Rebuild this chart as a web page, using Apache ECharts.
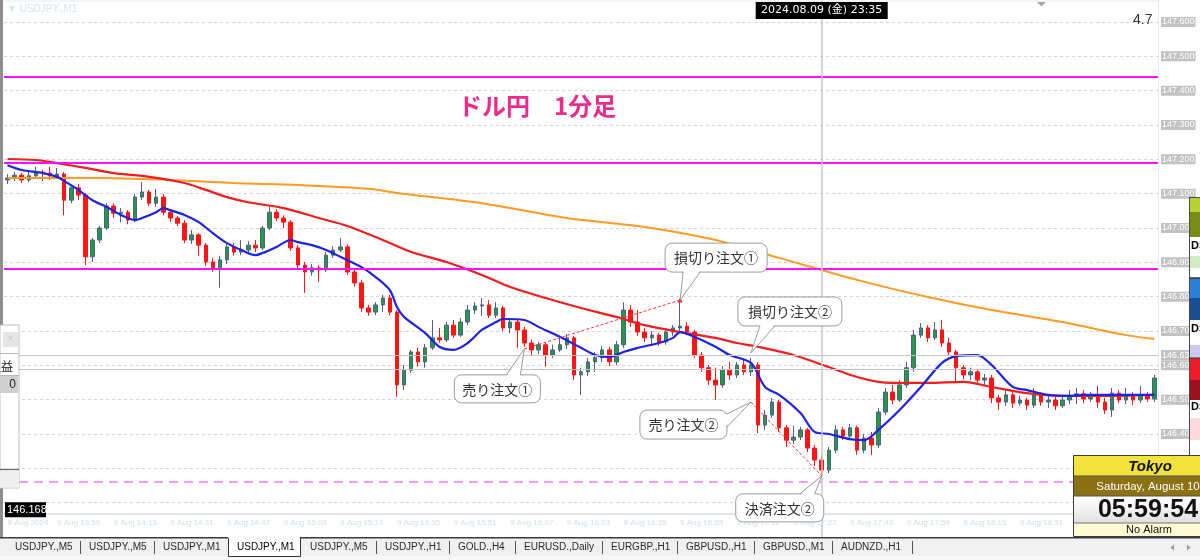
<!DOCTYPE html>
<html>
<head>
<meta charset="utf-8">
<script src="https://cdn.jsdelivr.net/npm/echarts@6/dist/echarts.min.js"></script>
<style>
html,body{margin:0;padding:0;background:#ffffff;overflow:hidden;width:1200px;height:560px;position:relative;}
#chart{position:absolute;left:0;top:-40px;width:1200px;height:600px;}
</style>
</head>
<body>
<div id="chart"></div>
<script>
// ================= DATA =================
const chartTitle = 'ドル円\u30001分足';
const symbolLabel = '\u25BC USDJPY.,M1';
const dateLabelPrefix = '9 Aug ';
const firstDateLabel = '9 Aug 2024';
const startTime = '13:45';
const barMinutes = 2;

// [open, close, low, high]
const candles = [
[147.140,147.146,147.128,147.157],[147.146,147.154,147.137,147.163],[147.154,147.140,147.131,147.160],[147.140,147.152,147.134,147.163],
[147.152,147.163,147.146,147.178],[147.163,147.160,147.137,147.169],[147.160,147.152,147.140,147.178],[147.152,147.157,147.146,147.175],
[147.157,147.081,147.037,147.163],[147.081,147.117,147.072,147.125],[147.117,147.096,147.081,147.128],[147.096,146.916,146.892,147.102],
[146.916,146.965,146.901,146.971],[146.965,147.000,146.956,147.006],[147.000,147.064,146.994,147.072],[147.064,147.043,147.029,147.072],
[147.043,147.046,147.017,147.058],[147.046,147.023,147.011,147.052],[147.023,147.090,147.017,147.099],[147.090,147.105,147.081,147.134],
[147.105,147.072,147.064,147.111],[147.072,147.090,147.061,147.114],[147.090,147.046,147.037,147.099],[147.046,147.029,147.017,147.055],
[147.029,147.014,147.006,147.035],[147.014,146.965,146.956,147.023],[146.965,146.980,146.953,146.994],[146.980,146.950,146.919,146.985],
[146.950,146.901,146.889,146.956],[146.901,146.884,146.872,146.913],[146.884,146.907,146.826,146.919],[146.907,146.945,146.895,146.953],
[146.945,146.930,146.919,146.956],[146.930,146.936,146.921,146.965],[146.936,146.950,146.924,146.962],[146.950,146.942,146.930,146.965],
[146.942,147.000,146.936,147.006],[147.000,147.046,146.994,147.061],[147.046,147.029,147.020,147.055],[147.029,147.017,147.000,147.037],
[147.017,146.942,146.933,147.023],[146.942,146.892,146.878,146.950],[146.892,146.872,146.811,146.901],[146.872,146.884,146.861,146.895],
[146.884,146.878,146.843,146.892],[146.878,146.921,146.872,146.930],[146.921,146.936,146.913,146.947],[146.936,146.945,146.930,146.971],
[146.945,146.872,146.863,146.953],[146.872,146.840,146.829,146.881],[146.840,146.767,146.755,146.849],[146.767,146.755,146.744,146.776],
[146.755,146.776,146.746,146.784],[146.776,146.796,146.755,146.805],[146.796,146.755,146.746,146.805],[146.755,146.543,146.508,146.761],
[146.543,146.586,146.528,146.601],[146.586,146.639,146.578,146.645],[146.639,146.610,146.596,146.651],[146.610,146.651,146.593,146.662],
[146.651,146.680,146.645,146.732],[146.680,146.674,146.665,146.709],[146.674,146.717,146.668,146.726],[146.717,146.688,146.680,146.732],
[146.688,146.726,146.683,146.738],[146.726,146.761,146.717,146.776],[146.761,146.773,146.749,146.784],[146.773,146.776,146.744,146.796],
[146.776,146.746,146.738,146.790],[146.746,146.767,146.738,146.784],[146.767,146.709,146.700,146.773],[146.709,146.726,146.694,146.738],
[146.726,146.703,146.651,146.732],[146.703,146.665,146.654,146.712],[146.665,146.645,146.630,146.674],[146.645,146.660,146.633,146.668],
[146.660,146.630,146.596,146.665],[146.630,146.645,146.622,146.660],[146.645,146.660,146.639,146.686],[146.660,146.680,146.648,146.691],
[146.680,146.572,146.557,146.686],[146.572,146.581,146.514,146.593],[146.581,146.610,146.569,146.622],[146.610,146.622,146.581,146.639],
[146.622,146.645,146.610,146.657],[146.645,146.610,146.598,146.654],[146.610,146.660,146.601,146.671],[146.660,146.761,146.651,146.784],
[146.761,146.726,146.712,146.776],[146.726,146.697,146.686,146.761],[146.697,146.680,146.668,146.709],[146.680,146.688,146.662,146.700],
[146.688,146.668,146.657,146.694],[146.668,146.697,146.660,146.703],[146.697,146.709,146.686,146.717],[146.709,146.714,146.700,146.790],
[146.714,146.697,146.688,146.726],[146.697,146.630,146.622,146.703],[146.630,146.593,146.581,146.639],[146.593,146.557,146.543,146.601],
[146.557,146.543,146.499,146.593],[146.543,146.586,146.534,146.598],[146.586,146.572,146.557,146.610],[146.572,146.601,146.563,146.610],
[146.601,146.581,146.572,146.616],[146.581,146.601,146.569,146.622],[146.601,146.426,146.403,146.610],[146.426,146.455,146.412,146.470],
[146.455,146.493,146.447,146.505],[146.493,146.418,146.406,146.499],[146.418,146.382,146.362,146.426],[146.382,146.391,146.371,146.424],
[146.391,146.412,146.382,146.421],[146.412,146.359,146.347,146.418],[146.359,146.324,146.307,146.368],[146.324,146.295,146.275,146.339],
[146.295,146.353,146.286,146.362],[146.353,146.412,146.344,146.426],[146.412,146.394,146.382,146.421],[146.394,146.418,146.382,146.429],
[146.418,146.353,146.339,146.424],[146.353,146.388,146.344,146.400],[146.388,146.368,146.339,146.406],[146.368,146.464,146.359,146.476],
[146.464,146.522,146.455,146.534],[146.522,146.499,146.487,146.543],[146.499,146.543,146.493,146.557],[146.543,146.593,146.534,146.610],
[146.593,146.688,146.581,146.703],[146.688,146.709,146.680,146.723],[146.709,146.680,146.668,146.717],[146.680,146.703,146.674,146.726],
[146.703,146.665,146.654,146.732],[146.665,146.639,146.627,146.680],[146.639,146.593,146.552,146.645],[146.593,146.572,146.560,146.601],
[146.572,146.581,146.557,146.593],[146.581,146.557,146.546,146.586],[146.557,146.563,146.540,146.575],[146.563,146.505,146.490,146.572],
[146.505,146.493,146.470,146.514],[146.493,146.514,146.482,146.528],[146.514,146.490,146.476,146.522],[146.490,146.499,146.482,146.511],
[146.499,146.484,146.470,146.505],[146.484,146.514,146.476,146.534],[146.514,146.493,146.482,146.522],[146.493,146.499,146.476,146.514],
[146.499,146.482,146.470,146.508],[146.482,146.499,146.476,146.511],[146.499,146.511,146.487,146.528],[146.511,146.517,146.487,146.534],
[146.517,146.502,146.490,146.528],[146.502,146.514,146.493,146.522],[146.514,146.493,146.476,146.540],[146.493,146.470,146.458,146.505],
[146.470,146.519,146.450,146.534],[146.519,146.499,146.490,146.528],[146.499,146.511,146.487,146.534],[146.511,146.499,146.484,146.522],
[146.499,146.514,146.490,146.540],[146.514,146.502,146.493,146.522],[146.502,146.563,146.493,146.572]
];

// moving averages: [barIndex, price]
const maFast = [[0,147.183],[2,147.169],[5,147.160],[7,147.149],[8,147.137],[10,147.111],[12,147.081],[14,147.061],[16,147.038],[18,147.023],[19,147.029],[21,147.046],[22,147.058],[23,147.052],[25,147.038],[27,147.017],[29,146.985],[31,146.956],[33,146.936],[35,146.921],[36,146.927],[38,146.945],[40,146.965],[41,146.959],[43,146.950],[45,146.936],[47,146.916],[50,146.886],[52,146.857],[54,146.819],[55,146.770],[56,146.741],[59,146.694],[61,146.654],[63,146.645],[65,146.665],[67,146.703],[69,146.726],[70,146.735],[73,146.732],[75,146.712],[78,146.683],[81,146.651],[83,146.630],[85,146.624],[87,146.639],[89,146.651],[92,146.665],[94,146.680],[95,146.697],[97,146.683],[100,146.654],[102,146.630],[105,146.607],[107,146.537],[109,146.514],[112,146.461],[114,146.406],[116,146.400],[119,146.385],[121,146.382],[123,146.412],[126,146.470],[129,146.537],[132,146.607],[134,146.627],[137,146.630],[139,146.601],[142,146.537],[144,146.528],[147,146.514],[150,146.511],[152,146.514],[156,146.514],[162,146.514]];
const maMid = [[0,147.201],[4,147.198],[7,147.189],[11,147.175],[15,147.160],[20,147.149],[25,147.131],[28,147.111],[31,147.090],[34,147.075],[39,147.058],[44,147.029],[48,147.006],[53,146.965],[57,146.930],[62,146.901],[67,146.863],[71,146.828],[76,146.796],[81,146.767],[86,146.741],[90,146.717],[95,146.697],[100,146.680],[103,146.665],[106,146.654],[111,146.630],[116,146.595],[120,146.566],[123,146.552],[125,146.549],[130,146.549],[135,146.552],[139,146.537],[144,146.519],[149,146.511],[153,146.511],[162,146.514]];
const maSlow = [[0,147.146],[7,147.146],[13,147.146],[23,147.140],[32,147.131],[41,147.125],[51,147.114],[55,147.102],[67,147.072],[79,147.029],[90,147.003],[100,146.965],[109,146.913],[120,146.849],[130,146.799],[139,146.761],[149,146.726],[158,146.688],[162,146.677]];

const levelLines = [147.435, 147.195, 146.875];
const targetLines = [146.257];
const priceLines = [146.630, 146.585];
const leftPriceTag = 146.168;
const crosshairBar = 115;
const crosshairLabel = '2024.08.09 (金) 23:35';
const cornerValue = '4.7';

const tradePaths = [
  [[73,146.648],[95,146.790]],
  [[105,146.493],[115,146.278]]
];
const callouts = [
  {text:'損切り注文①', bar:95,  price:146.790},
  {text:'損切り注文②', bar:105, price:146.636},
  {text:'売り注文①',   bar:73,  price:146.648},
  {text:'売り注文②',   bar:105, price:146.493},
  {text:'決済注文②',   bar:115, price:146.278}
];
const tabLabels = ['USDJPY.,M5','USDJPY.,M5','USDJPY.,M1','USDJPY.,M1','USDJPY.,M5','USDJPY.,H1','GOLD.,H4','EURUSD.,Daily','EURGBP.,H1','GBPUSD.,H1','GBPUSD.,M1','AUDNZD.,H1'];
const activeTab = 3;
const clockTexts = ['Tokyo','Saturday, August 10','05:59:54','No Alarm'];
const sidePanelTexts = ['DS','DS','DS'];
const leftPanelTexts = ['損益','0'];

// ================= LAYOUT (positions / styles) =================
const OFF = 40; // chart canvas is shifted up by this many pixels
const calloutLayout = [
  {dx:-15, dy:-57, w:102, h:29, edge:'bottom', a:18, b:35},
  {dx:-13, dy:-56, w:104, h:29, edge:'bottom', a:22, b:37},
  {dx:-70, dy:26,  w:86,  h:28, edge:'top',    a:52, b:66},
  {dx:-111,dy:8,   w:87,  h:29, edge:'right',  a:4,  b:17},
  {dx:-86, dy:18,  w:88,  h:28, edge:'top',    a:64, b:79}
];
const tabX = [15,89,163,237,310,385,458,524,611,686,763,841];
const LATIN = '"Liberation Sans", Arial, sans-serif';
const CJK = '"Noto Sans CJK JP", sans-serif';

// ================= BUILD =================
const categories = [];
(function(){
  const p = startTime.split(':').map(Number);
  for (let k = 0; k < candles.length; k++) {
    const t = p[0]*60 + p[1] + k*barMinutes;
    categories.push(String(Math.floor(t/60)).padStart(2,'0') + ':' + String(t%60).padStart(2,'0'));
  }
})();

const chart = echarts.init(document.getElementById('chart'), null, {renderer:'canvas', width:1200, height:600});

const markData = [];
levelLines.forEach(v => markData.push({yAxis:v, lineStyle:{color:'#ff10ff', width:2, type:'solid'}}));
targetLines.forEach(v => markData.push({yAxis:v, lineStyle:{color:'#f47cf4', width:1.6, type:[9,6]}}));
priceLines.forEach((v,k) => markData.push({yAxis:v, lineStyle:{color:'#c6c6c6', width:1, type:'solid'},
  label: k === 0 ? {show:true, position:'end', distance:3, formatter: v.toFixed(3), color:'#fff', backgroundColor:'#c2c2c2', fontSize:9, fontFamily:LATIN, padding:[1,1,0,1]} : {show:false}}));
markData.push({xAxis: categories[crosshairBar], lineStyle:{color:'#c8c8c8', width:1.5, type:'solid'}});

const option = {
  animation:false,
  backgroundColor:'#ffffff',
  title:{text:chartTitle, left:458, top:94 + OFF, padding:0,
    textStyle:{color:'#ee2a8a', fontSize:24, fontWeight:'bold', fontFamily:CJK}},
  grid:{left:4, right:42, top:OFF - 12.33, bottom:23},
  xAxis:{type:'category', data:categories, boundaryGap:true,
    axisLine:{show:false}, axisTick:{show:false}, splitLine:{show:false},
    axisLabel:{color:'#cfe0f0', fontSize:8, fontFamily:LATIN, margin:-18, align:'left',
      interval:(i) => i === 0 || (i >= 7 && (i-7) % 8 === 0),
      formatter:(v, i) => i === 0 ? firstDateLabel : dateLabelPrefix + v}},
  yAxis:{type:'value', position:'right', min:146.1, max:147.7, interval:0.1, scale:true,
    axisLine:{show:false}, axisTick:{show:false},
    splitLine:{show:true, lineStyle:{color:'#d4d4d4', width:1, type:[3,3]}},
    axisLabel:{formatter:v => v.toFixed(3), color:'#ffffff', backgroundColor:'#c2c2c2', fontSize:9,
      fontFamily:LATIN, padding:[1,1,0,1], margin:3}},
  series:[
    {type:'candlestick', data:candles, barWidth:4, z:2,
      itemStyle:{color:'#1f9e3c', color0:'#ff1414', borderColor:'#56588f', borderColor0:'#ff1414', borderWidth:1},
      markLine:{silent:true, symbol:['none','none'], animation:false, label:{show:false}, data:markData}},
    {type:'line', data:maSlow, smooth:0.3, symbol:'none', z:3, lineStyle:{color:'#ff9a22', width:2}},
    {type:'line', data:maMid, smooth:0.3, symbol:'none', z:3, lineStyle:{color:'#f21c1c', width:2.2}},
    {type:'line', data:maFast, smooth:0.3, symbol:'none', z:4, lineStyle:{color:'#1c22e6', width:2.2}}
  ].concat(tradePaths.map(p => ({type:'line', data:p, symbol:'triangle', symbolSize:5, z:5,
      itemStyle:{color:'#ff2020'}, lineStyle:{color:'#ff3030', width:1, type:[3,2]}})))
};
chart.setOption(option);

// ================= OVERLAYS =================
function px(bar, price){ return chart.convertToPixel({seriesIndex:0}, [bar, price]); }
function txt(x, y, s, font, fill, align, vAlign, z){
  return {type:'text', x:x, y:y, z:z||130, silent:true,
    style:{text:s, font:font, fill:fill, align:align||'left', textAlign:align||'left',
      verticalAlign:vAlign||'middle', textVerticalAlign:vAlign||'middle'}};
}
function rect(x, y, w, h, fill, stroke, z, r){
  return {type:'rect', z:z||120, silent:true, shape:{x:x, y:y, width:w, height:h, r:r||0},
    style:{fill:fill, stroke:stroke||null, lineWidth:1}};
}
function line(x1, y1, x2, y2, stroke, w, z){
  return {type:'line', z:z||121, silent:true, shape:{x1:x1, y1:y1, x2:x2, y2:y2}, style:{stroke:stroke, lineWidth:w||1}};
}
const els = [];   // page coordinates (shifted by OFF via group)
const dels = [];  // chart coordinates

// chart frame
els.push(line(4, 1, 1158, 1, '#e2edf7', 1, 20));
els.push(line(1158.5, 0, 1158.5, 514, '#e2edf7', 1, 20));
els.push(line(4, 514, 1158, 514, '#c8c8c8', 1, 20));
els.push(rect(0, 0, 3, 537, '#8e8e8e', null, 125));
els.push(txt(7, 9, symbolLabel, '10px ' + LATIN, '#d3e6f6', 'left', 'middle', 20));
els.push({type:'polygon', z:30, silent:true, shape:{points:[[1037,2],[1046,2],[1041.5,6.5]]}, style:{fill:'#a8a8a8'}});
els.push(txt(1133, 20, cornerValue, '14px ' + LATIN, '#333333', 'left', 'middle', 30));

// crosshair date label
const cx = px(crosshairBar, 147)[0];
els.push(rect(cx - 66, 2, 132, 17, '#000000', null, 140));
els.push(txt(cx, 10.5, crosshairLabel, '11px "DejaVu Sans", ' + CJK, '#ffffff', 'center', 'middle', 141));

// left price tag
const ly = px(0, leftPriceTag)[1] - 4;
dels.push(rect(5, ly - 7.5, 41, 15, '#000000', null, 140));
dels.push(txt(7, ly, leftPriceTag.toFixed(3), '11px ' + LATIN, '#ffffff', 'left', 'middle', 141));

// trade callouts
callouts.forEach((c, k) => {
  const L = calloutLayout[k];
  const a = px(c.bar, c.price);
  const ax = a[0], ay = a[1];
  const bx = ax + L.dx, by = ay + L.dy;
  dels.push({type:'rect', z:110, silent:true, shape:{x:bx, y:by, width:L.w, height:L.h, r:7},
    style:{fill:'#ffffff', stroke:'#9c9c9c', lineWidth:1}});
  let b1, b2, i1, i2;
  if (L.edge === 'top') { b1=[bx+L.a,by]; b2=[bx+L.b,by]; i1=[bx+L.a+0.5,by+1.5]; i2=[bx+L.b-0.5,by+1.5]; }
  else if (L.edge === 'bottom') { b1=[bx+L.a,by+L.h]; b2=[bx+L.b,by+L.h]; i1=[bx+L.a+0.5,by+L.h-1.5]; i2=[bx+L.b-0.5,by+L.h-1.5]; }
  else { b1=[bx+L.w,by+L.a]; b2=[bx+L.w,by+L.b]; i1=[bx+L.w-1.5,by+L.a+0.5]; i2=[bx+L.w-1.5,by+L.b-0.5]; }
  dels.push({type:'polygon', z:111, silent:true, shape:{points:[i1,[ax,ay],i2]}, style:{fill:'#ffffff'}});
  dels.push({type:'polyline', z:112, silent:true, shape:{points:[b1,[ax,ay],b2]}, style:{stroke:'#9c9c9c', lineWidth:1, fill:null}});
  dels.push(txt(bx + L.w/2, by + L.h/2 + 0.5, c.text, '14px ' + CJK, '#333333', 'center', 'middle', 113));
});

// left mini panel
els.push(rect(0, 325, 19, 163, '#ffffff', '#bdbdbd', 126));
els.push(rect(3, 332, 15, 15, '#e6e6e6', null, 127));
els.push(txt(10.5, 339.5, '×', '10px ' + LATIN, '#c8c8c8', 'center', 'middle', 128));
els.push(line(0, 353.5, 19, 353.5, '#b8b8b8', 1, 127));
els.push(txt(13, 366, leftPanelTexts[0], '12px ' + CJK, '#222222', 'right', 'middle', 128));
els.push(line(0, 375.5, 19, 375.5, '#b8b8b8', 1, 127));
els.push(rect(0, 376, 18, 17, '#cfcfcf', null, 127));
els.push(txt(16, 385, leftPanelTexts[1], '12px ' + LATIN, '#222222', 'right', 'middle', 128));
els.push(line(0, 469.5, 19, 469.5, '#6e6e6e', 1.5, 127));
els.push(rect(0, 470.5, 19, 17, '#efefef', null, 127));

// right side panel
const blocks = [[197,212,'#b8d236'],[212,237,'#7a8b1b'],[237,256,'#ffffff'],[256,268,'#d3ebc3'],[268,278,'#ffffff'],
  [278,298,'#2c7fd5'],[298,320,'#1b4e8f'],[320,345,'#ffffff'],[345,358,'#ccc9ee'],[358,380,'#ec1d2b'],
  [380,400,'#9b1020'],[400,418,'#ffffff'],[418,440,'#fcdadf'],[440,455,'#ffffff']];
blocks.forEach(b => els.push(rect(1189, b[0], 11, b[1]-b[0], b[2], null, 122)));
els.push(line(1189.5, 197, 1189.5, 455, '#4a4a4a', 1, 123));
els.push(line(1189, 197.5, 1200, 197.5, '#4a4a4a', 1, 123));
els.push(line(1189, 278, 1200, 278, '#333333', 1.5, 123));
els.push(line(1189, 358, 1200, 358, '#333333', 1, 123));
[246, 329, 407].forEach((y, k) => els.push(txt(1191, y, sidePanelTexts[k], 'bold 11px ' + LATIN, '#000000', 'left', 'middle', 124)));

// clock widget
els.push(rect(1073.5, 455.5, 140, 81, '#ffffff', '#3c3c3c', 130));
els.push(rect(1074, 456, 130, 20, '#f1e33b', null, 131));
els.push(rect(1074, 476, 130, 20, '#8b7112', null, 131));
els.push({type:'rect', z:131, silent:true, shape:{x:1074, y:496, width:130, height:27},
  style:{fill:new echarts.graphic.LinearGradient(0,0,0,1,[{offset:0,color:'#ffffff'},{offset:0.5,color:'#f2f2f2'},{offset:1,color:'#dedede'}])}});
els.push(rect(1074, 523, 130, 13, '#fdfad4', null, 131));
els.push(line(1074, 476, 1200, 476, '#555555', 1, 132));
els.push(line(1074, 496, 1200, 496, '#555555', 1, 132));
els.push(line(1074, 523, 1200, 523, '#777777', 1, 132));
els.push(txt(1150, 466.5, clockTexts[0], 'italic bold 15px ' + LATIN, '#111111', 'center', 'middle', 133));
els.push(txt(1148, 486.5, clockTexts[1], '11.5px ' + LATIN, '#ffffff', 'center', 'middle', 133));
els.push(txt(1148, 510, clockTexts[2], 'bold 25px ' + LATIN, '#111111', 'center', 'middle', 133));
els.push(txt(1149, 530, clockTexts[3], '11px ' + LATIN, '#111111', 'center', 'middle', 133));

// tab bar
els.push(rect(0, 537, 1200, 23, '#f0f0f0', null, 135));
els.push(rect(0, 556, 1200, 4, '#f7f7f7', null, 136));
els.push(line(0, 537.75, 1200, 537.75, '#3a3a3a', 1.5, 136));
els.push(rect(228, 536, 72, 20, '#ffffff', null, 137));
els.push({type:'polyline', z:138, silent:true, shape:{points:[[228.5,538],[228.5,556.5],[300.5,556.5],[300.5,538]]}, style:{stroke:'#333333', lineWidth:1, fill:null}});
tabLabels.forEach((t, k) => {
  els.push(txt(tabX[k], 547.5, t, '10px ' + LATIN, k === activeTab ? '#000000' : '#2a2a2a', 'left', 'middle', 139));
  if (k !== activeTab && k + 1 !== activeTab) {
    const sx = k + 1 < tabX.length ? (tabX[k+1] - 9) : 912;
    els.push(line(sx + 0.5, 541, sx + 0.5, 554, '#555555', 1, 139));
  }
});
els.push({type:'polygon', z:139, silent:true, shape:{points:[[1174,544.5],[1174,550.5],[1170.5,547.5]]}, style:{fill:'#9a9a9a'}});
els.push({type:'polygon', z:139, silent:true, shape:{points:[[1187,544.5],[1187,550.5],[1190.5,547.5]]}, style:{fill:'#9a9a9a'}});

chart.setOption({graphic:{elements:[{type:'group', x:0, y:OFF, children:els}].concat(dels)}});
</script>
</body>
</html>
